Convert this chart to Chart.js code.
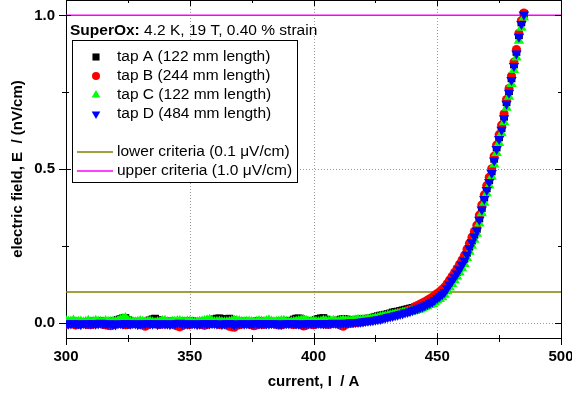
<!DOCTYPE html>
<html>
<head>
<meta charset="utf-8">
<script src="https://cdn.jsdelivr.net/npm/chart.js@4.4.0/dist/chart.umd.min.js"></script>
<style>
  html, body { margin: 0; padding: 0; background: #fff; }
  #wrap { width: 572px; height: 396px; position: relative; }
</style>
</head>
<body>
<div id="wrap"><canvas id="chart-ic"></canvas></div>
<script>
const FONT = '"Liberation Sans", Arial, sans-serif';

// axis limits and ticks
const xRange = [300, 500];
const yRange = [-0.05, 1.05];
const xTicks = [300, 350, 400, 450, 500];
const xMinor = [325, 375, 425, 475];
const yTicks = [0.0, 0.5, 1.0];
const yMinor = [0.25, 0.75];

// current (A), shared by all four voltage taps
const currents = [
  300, 301, 302, 303, 304, 305, 306, 307, 308, 309,
  310, 311, 312, 313, 314, 315, 316, 317, 318, 319,
  320, 321, 322, 323, 324, 325, 326, 327, 328, 329,
  330, 331, 332, 333, 334, 335, 336, 337, 338, 339,
  340, 341, 342, 343, 344, 345, 346, 347, 348, 349,
  350, 351, 352, 353, 354, 355, 356, 357, 358, 359,
  360, 361, 362, 363, 364, 365, 366, 367, 368, 369,
  370, 371, 372, 373, 374, 375, 376, 377, 378, 379,
  380, 381, 382, 383, 384, 385, 386, 387, 388, 389,
  390, 391, 392, 393, 394, 395, 396, 397, 398, 399,
  400, 401, 402, 403, 404, 405, 406, 407, 408, 409,
  410, 411, 412, 413, 414, 415, 416, 417, 418, 419,
  420, 421, 422, 423, 424, 425, 426, 427, 428, 429,
  430, 431, 432, 433, 434, 435, 436, 437, 438, 439,
  440, 441, 442, 443, 444, 445, 446, 447, 448, 449,
  450, 451, 452, 453, 454, 455, 456, 457, 458, 459,
  460, 461, 462, 463, 464, 465, 466, 467, 468, 469,
  470, 471, 472, 473, 474, 475, 476, 477, 478, 479,
  480, 481, 482, 483, 484, 485
];

// electric field per tap (rows of ten currents)
const tapA = [
  0.003, 0.002, 0.001, 0.004, 0.003, 0.002, 0.001, 0.000, 0.002, 0.003,
  0.003, 0.004, 0.002, 0.003, 0.005, 0.003, 0.001, 0.002, 0.003, 0.004,
  0.006, 0.009, 0.012, 0.014, 0.015, 0.008, 0.004, 0.003, 0.002, 0.002,
  0.003, 0.002, 0.001, 0.004, 0.008, 0.011, 0.013, 0.009, 0.005, 0.003,
  0.002, 0.003, 0.004, 0.002, 0.001, 0.002, 0.003, 0.004, 0.002, 0.003,
  0.005, 0.004, 0.003, 0.002, 0.001, 0.003, 0.004, 0.005, 0.006, 0.008,
  0.011, 0.013, 0.014, 0.011, 0.009, 0.012, 0.013, 0.008, 0.003, 0.002,
  0.002, 0.003, 0.004, 0.002, 0.001, 0.002, 0.003, 0.004, 0.005, 0.004,
  0.002, 0.003, 0.004, 0.002, 0.001, 0.002, 0.003, 0.005, 0.006, 0.004,
  0.002, 0.006, 0.010, 0.013, 0.014, 0.011, 0.008, 0.005, 0.003, 0.004,
  0.005, 0.009, 0.012, 0.014, 0.015, 0.010, 0.006, 0.005, 0.004, 0.006,
  0.007, 0.010, 0.012, 0.011, 0.009, 0.008, 0.008, 0.009, 0.010, 0.010,
  0.011, 0.012, 0.013, 0.014, 0.016, 0.019, 0.021, 0.023, 0.024, 0.026,
  0.028, 0.030, 0.033, 0.035, 0.036, 0.038, 0.040, 0.042, 0.044, 0.046,
  0.048, 0.050, 0.053, 0.056, 0.059, 0.062, 0.066, 0.070, 0.075, 0.080,
  0.086, 0.092, 0.099, 0.106, 0.117, 0.129, 0.141, 0.153, 0.165, 0.179,
  0.193, 0.208, 0.227, 0.247, 0.267, 0.286, 0.305, 0.339, 0.373, 0.407,
  0.437, 0.463, 0.492, 0.533, 0.570, 0.603, 0.633, 0.670, 0.717, 0.753,
  0.795, 0.840, 0.881, 0.935, 0.977, 1.005
];
const tapB = [
  -0.006, -0.004, -0.002, -0.005, -0.008, -0.006, -0.004, -0.003, -0.005, -0.007,
  -0.007, -0.005, -0.004, -0.002, -0.003, -0.006, -0.007, -0.009, -0.010, -0.006,
  -0.004, -0.003, -0.003, -0.005, -0.007, -0.006, -0.005, -0.003, -0.002, -0.004,
  -0.006, -0.008, -0.012, -0.007, -0.004, -0.003, -0.003, -0.005, -0.006, -0.004,
  -0.005, -0.003, -0.002, -0.005, -0.008, -0.011, -0.014, -0.010, -0.004, -0.005,
  -0.006, -0.004, -0.003, -0.004, -0.005, -0.007, -0.009, -0.006, -0.004, -0.003,
  -0.002, -0.004, -0.006, -0.005, -0.004, -0.008, -0.012, -0.014, -0.015, -0.009,
  -0.007, -0.005, -0.003, -0.004, -0.005, -0.007, -0.010, -0.008, -0.004, -0.005,
  -0.006, -0.004, -0.002, -0.003, -0.004, -0.006, -0.008, -0.007, -0.005, -0.004,
  -0.003, -0.005, -0.006, -0.005, -0.004, -0.007, -0.011, -0.009, -0.005, -0.004,
  -0.007, -0.005, -0.003, -0.004, -0.004, -0.005, -0.006, -0.004, -0.002, -0.003,
  -0.005, -0.009, -0.012, -0.006, -0.003, -0.002, -0.001, 0.000, 0.001, 0.002,
  0.003, 0.005, 0.006, 0.008, 0.009, 0.011, 0.012, 0.014, 0.016, 0.018,
  0.020, 0.022, 0.025, 0.027, 0.029, 0.032, 0.034, 0.037, 0.039, 0.042,
  0.045, 0.052, 0.056, 0.060, 0.064, 0.068, 0.073, 0.078, 0.083, 0.089,
  0.095, 0.101, 0.108, 0.116, 0.127, 0.139, 0.151, 0.163, 0.176, 0.190,
  0.204, 0.219, 0.238, 0.258, 0.277, 0.297, 0.317, 0.350, 0.383, 0.416,
  0.446, 0.473, 0.501, 0.542, 0.578, 0.612, 0.643, 0.680, 0.726, 0.762,
  0.803, 0.848, 0.889, 0.942, 0.983, 1.008
];
const tapC = [
  0.005, 0.003, 0.004, 0.007, 0.002, 0.003, 0.004, 0.001, 0.003, 0.006,
  0.001, 0.003, 0.006, 0.004, 0.003, 0.002, 0.005, 0.003, 0.002, 0.004,
  0.004, 0.006, 0.009, 0.013, 0.015, 0.007, 0.003, 0.002, 0.001, 0.003,
  0.005, 0.003, 0.002, 0.004, 0.004, 0.001, 0.000, 0.002, 0.003, 0.005,
  0.006, 0.002, 0.001, 0.003, 0.003, 0.005, 0.005, 0.003, 0.002, 0.004,
  0.004, 0.002, 0.000, 0.001, 0.003, 0.004, 0.006, 0.008, 0.009, 0.005,
  0.002, 0.003, 0.004, 0.002, 0.001, 0.002, 0.003, 0.005, 0.007, 0.006,
  0.005, 0.003, 0.002, 0.003, 0.004, 0.002, 0.001, 0.003, 0.005, 0.004,
  0.003, 0.005, 0.008, 0.004, 0.002, 0.003, 0.004, 0.005, 0.006, 0.003,
  0.001, 0.002, 0.003, 0.004, 0.005, 0.007, 0.009, 0.006, 0.003, 0.004,
  0.005, 0.003, 0.002, 0.004, 0.007, 0.005, 0.004, 0.005, 0.006, 0.004,
  0.003, 0.006, 0.008, 0.006, 0.005, 0.006, 0.007, 0.008, 0.009, 0.008,
  0.009, 0.010, 0.011, 0.012, 0.013, 0.015, 0.016, 0.018, 0.020, 0.021,
  0.023, 0.024, 0.026, 0.027, 0.029, 0.030, 0.032, 0.033, 0.035, 0.036,
  0.037, 0.038, 0.041, 0.043, 0.046, 0.050, 0.053, 0.057, 0.061, 0.066,
  0.072, 0.077, 0.083, 0.091, 0.102, 0.114, 0.126, 0.138, 0.150, 0.163,
  0.177, 0.191, 0.210, 0.231, 0.250, 0.270, 0.289, 0.323, 0.356, 0.390,
  0.420, 0.446, 0.475, 0.515, 0.552, 0.585, 0.616, 0.652, 0.699, 0.735,
  0.777, 0.822, 0.863, 0.917, 0.960, 0.993
];
const tapD = [
  -0.002, -0.004, -0.003, -0.001, -0.004, -0.003, -0.005, -0.002, -0.003, -0.001,
  -0.003, -0.002, -0.004, -0.003, 0.000, -0.002, -0.004, -0.003, -0.002, -0.005,
  -0.006, -0.003, -0.002, -0.004, -0.001, -0.003, -0.004, -0.002, -0.003, -0.005,
  -0.004, -0.002, -0.003, -0.001, -0.003, -0.004, -0.002, -0.005, -0.003, -0.002,
  -0.003, -0.004, -0.005, -0.002, -0.003, -0.001, 0.000, -0.003, -0.002, -0.004,
  -0.004, -0.002, -0.003, -0.005, -0.004, -0.002, -0.001, -0.003, -0.003, -0.002,
  -0.002, -0.004, -0.003, -0.005, -0.003, -0.002, -0.001, -0.004, -0.006, -0.003,
  -0.003, -0.002, -0.004, -0.002, -0.003, -0.004, -0.002, -0.001, -0.003, -0.004,
  -0.001, -0.003, -0.004, -0.002, -0.002, -0.003, -0.004, -0.005, -0.003, -0.002,
  -0.002, -0.001, -0.002, -0.003, -0.004, -0.003, -0.004, -0.002, -0.001, -0.003,
  -0.003, -0.002, -0.001, -0.002, -0.003, -0.002, -0.001, -0.002, 0.000, -0.001,
  -0.002, -0.001, 0.000, -0.001, 0.000, 0.001, 0.001, 0.002, 0.002, 0.003,
  0.004, 0.005, 0.006, 0.007, 0.008, 0.009, 0.011, 0.012, 0.014, 0.016,
  0.018, 0.020, 0.022, 0.024, 0.026, 0.028, 0.030, 0.033, 0.035, 0.037,
  0.040, 0.043, 0.046, 0.049, 0.052, 0.056, 0.060, 0.064, 0.068, 0.074,
  0.080, 0.086, 0.092, 0.100, 0.112, 0.124, 0.136, 0.148, 0.160, 0.174,
  0.188, 0.202, 0.222, 0.243, 0.262, 0.281, 0.300, 0.335, 0.368, 0.402,
  0.432, 0.458, 0.487, 0.528, 0.565, 0.598, 0.628, 0.665, 0.712, 0.748,
  0.790, 0.835, 0.876, 0.930, 0.972, 1.003
];

// criteria lines (uV/cm)
const lowerCriterion = 0.1;
const upperCriterion = 1.0;

const legendTitle = 'SuperOx:';
const legendSubtitle = ' 4.2 K, 19 T, 0.40 % strain';
const tapLabels = ['tap A (122 mm length)', 'tap B (244 mm length)', 'tap C (122 mm length)', 'tap D (484 mm length)'];
const criteriaLabels = ['lower criteria (0.1 \u03bcV/cm)', 'upper criteria (1.0 \u03bcV/cm)'];

const taps = [
  { data: tapA, color: '#000000', style: 'rect', radius: 5.5, legendRadius: 5, rotation: 0 },
  { data: tapB, color: '#ff0000', style: 'circle', radius: 4.5, legendRadius: 4, rotation: 0 },
  { data: tapC, color: '#00ff00', style: 'triangle', radius: 6, legendRadius: 5, rotation: 0 },
  { data: tapD, color: '#0000ff', style: 'triangle', radius: 6, legendRadius: 5, rotation: 180 }
];
const criteria = [
  { value: lowerCriterion, color: '#808000' },
  { value: upperCriterion, color: '#ff00ff' }
];

function drawMarker(ctx, t, x, y) {
  const r = t.legendRadius;
  ctx.fillStyle = t.color;
  ctx.beginPath();
  if (t.style === 'rect') {
    const s = r * Math.SQRT1_2;
    ctx.rect(x - s, y - s, 2 * s, 2 * s);
  } else if (t.style === 'circle') {
    ctx.arc(x, y, r, 0, Math.PI * 2);
  } else {
    const dir = t.rotation ? -1 : 1;
    ctx.moveTo(x, y - dir * r);
    ctx.lineTo(x + r * 0.866, y + dir * r / 2);
    ctx.lineTo(x - r * 0.866, y + dir * r / 2);
    ctx.closePath();
  }
  ctx.fill();
}

// dotted grid under the data
const gridPlugin = {
  id: 'dottedGrid',
  beforeDatasetsDraw(chart) {
    const ctx = chart.ctx;
    const a = chart.chartArea;
    const xs = chart.scales.x, ys = chart.scales.y;
    ctx.save();
    ctx.strokeStyle = '#9a9a9a';
    ctx.lineWidth = 1;
    ctx.setLineDash([1, 2]);
    ctx.beginPath();
    xTicks.slice(1, -1).forEach(v => {
      const p = Math.round(xs.getPixelForValue(v)) + 0.5;
      ctx.moveTo(p, a.top);
      ctx.lineTo(p, a.bottom);
    });
    yTicks.forEach(v => {
      const p = Math.round(ys.getPixelForValue(v)) + 0.5;
      ctx.moveTo(a.left, p);
      ctx.lineTo(a.right, p);
    });
    ctx.stroke();
    ctx.restore();
  }
};

// frame ticks on all four sides + the boxed legend
const framePlugin = {
  id: 'frame',
  afterDraw(chart) {
    const ctx = chart.ctx;
    const a = chart.chartArea;
    const xs = chart.scales.x, ys = chart.scales.y;
    ctx.save();
    ctx.strokeStyle = '#000';
    ctx.lineWidth = 1;
    ctx.beginPath();
    ctx.moveTo(a.left, a.top + 0.5);
    ctx.lineTo(a.right + 0.5, a.top + 0.5);
    ctx.lineTo(a.right + 0.5, a.bottom);
    const seg = (x1, y1, x2, y2) => { ctx.moveTo(x1, y1); ctx.lineTo(x2, y2); };
    xTicks.forEach(v => {
      const p = Math.round(xs.getPixelForValue(v)) + 0.5;
      seg(p, a.bottom - 5, p, a.bottom + 7);
      seg(p, a.top, p, a.top + 6);
    });
    xMinor.forEach(v => {
      const p = Math.round(xs.getPixelForValue(v)) + 0.5;
      seg(p, a.bottom - 3, p, a.bottom + 4);
      seg(p, a.top, p, a.top + 3);
    });
    yTicks.forEach(v => {
      const p = Math.round(ys.getPixelForValue(v)) + 0.5;
      seg(a.left - 7, p, a.left + 5, p);
      seg(a.right - 6, p, a.right, p);
    });
    yMinor.forEach(v => {
      const p = Math.round(ys.getPixelForValue(v)) + 0.5;
      seg(a.left - 4, p, a.left + 3, p);
      seg(a.right - 3, p, a.right, p);
    });
    ctx.stroke();

    // legend title, drawn straight over the plot
    ctx.textBaseline = 'middle';
    ctx.fillStyle = '#000';
    ctx.font = 'bold 15.5px ' + FONT;
    ctx.fillText(legendTitle, 70, 31);
    const w = ctx.measureText(legendTitle).width;
    ctx.font = '15.5px ' + FONT;
    ctx.fillText(legendSubtitle, 70 + w, 31);

    // legend box
    ctx.fillStyle = '#fff';
    ctx.fillRect(72, 40, 226, 142);
    ctx.strokeRect(72.5, 40.5, 225, 142);

    const rowY = [57, 76, 95, 114];
    taps.forEach((t, i) => {
      drawMarker(ctx, t, 96, rowY[i]);
      ctx.fillStyle = '#000';
      ctx.fillText(tapLabels[i], 117, rowY[i]);
    });
    const lineY = [152, 171];
    criteria.forEach((c, i) => {
      ctx.strokeStyle = c.color;
      ctx.lineWidth = 1.5;
      ctx.beginPath();
      ctx.moveTo(77, lineY[i]);
      ctx.lineTo(113, lineY[i]);
      ctx.stroke();
      ctx.fillStyle = '#000';
      ctx.fillText(criteriaLabels[i], 117, lineY[i]);
    });
    ctx.restore();
  }
};

const datasets = [];
criteria.forEach((c, i) => {
  datasets.push({
    label: criteriaLabels[i],
    data: [{ x: xRange[0], y: c.value }, { x: xRange[1], y: c.value }],
    showLine: true,
    borderColor: c.color,
    borderWidth: 1.5,
    pointRadius: 0,
    order: 10
  });
});
taps.forEach((t, i) => {
  datasets.push({
    label: tapLabels[i],
    data: currents.map((I, k) => ({ x: I, y: t.data[k] })),
    pointStyle: t.style,
    pointRadius: t.radius,
    rotation: t.rotation,
    pointBackgroundColor: t.color,
    pointBorderColor: t.color,
    pointBorderWidth: 0,
    showLine: false,
    order: 4 - i
  });
});

const tickFont = { family: FONT, size: 15, weight: 'bold' };

new Chart(document.getElementById('chart-ic'), {
  type: 'scatter',
  data: { datasets },
  options: {
    responsive: true,
    maintainAspectRatio: false,
    animation: false,
    events: [],
    layout: { autoPadding: false, padding: { top: 0, right: 11, left: 0, bottom: 0 } },
    plugins: { legend: { display: false }, tooltip: { enabled: false } },
    scales: {
      x: {
        type: 'linear',
        min: xRange[0],
        max: xRange[1],
        afterBuildTicks: s => { s.ticks = xTicks.map(v => ({ value: v })); },
        afterFit: s => { s.height = 58; s.paddingLeft = 0; s.paddingRight = 0; },
        ticks: { color: '#000', font: tickFont, padding: 10, callback: v => String(v) },
        grid: { display: false, drawTicks: false },
        border: { display: true, color: '#000', width: 1 },
        title: { display: true, text: 'current, I  / A', color: '#000', font: tickFont, padding: { top: 0, bottom: 5 } }
      },
      y: {
        type: 'linear',
        min: yRange[0],
        max: yRange[1],
        afterBuildTicks: s => { s.ticks = yTicks.map(v => ({ value: v })); },
        afterFit: s => { s.width = 66; s.paddingTop = 0; s.paddingBottom = 0; },
        ticks: { color: '#000', font: tickFont, padding: 11, callback: v => v.toFixed(1) },
        grid: { display: false, drawTicks: false },
        border: { display: true, color: '#000', width: 1 },
        title: { display: true, text: 'electric field, E  / (nV/cm)', color: '#000', font: tickFont, padding: { top: 9, bottom: 0 } }
      }
    }
  },
  plugins: [gridPlugin, framePlugin]
});
</script>
</body>
</html>
